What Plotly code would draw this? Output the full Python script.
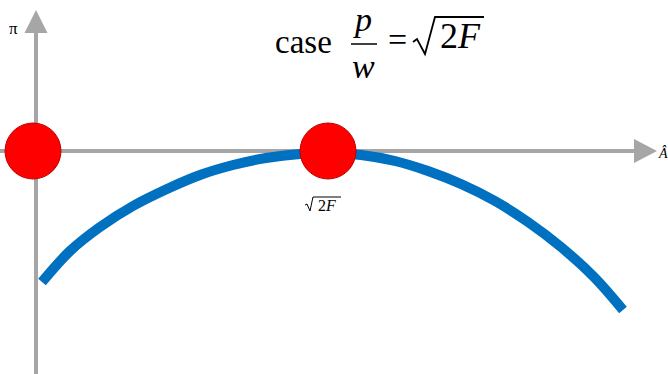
import plotly.graph_objects as go

# profit curve (x along the A axis, y = profit)
curve_x = [0.06, 0.34, 0.64, 0.97, 1.31, 1.64, 1.97, 2.30, 2.64, 2.92,
           3.25, 3.59, 3.92, 4.25, 4.59, 4.92, 5.25, 5.58, 5.87]
curve_y = [-1.31, -1.00, -0.76, -0.55, -0.38, -0.24, -0.14, -0.07, -0.03, -0.02,
           -0.04, -0.10, -0.20, -0.33, -0.50, -0.71, -0.96, -1.26, -1.59]

# red dots: origin and the optimum at sqrt(2F)
dot_x = [-0.03, 2.92]
dot_y = [0.0, 0.0]

W, H = 668, 374
SERIF = "Liberation Serif"


def px(x):
    return x / W


def py(y):
    return 1 - y / H


def poly(points, close=False):
    s = "M " + " L ".join(f"{px(a):.5f} {py(b):.5f}" for a, b in points)
    return s + (" Z" if close else "")


fig = go.Figure()

fig.add_trace(go.Scatter(
    x=curve_x, y=curve_y, mode="lines",
    line=dict(color="#0070C0", width=10, shape="spline", smoothing=1.0),
    hoverinfo="skip",
))
fig.add_trace(go.Scatter(
    x=dot_x, y=dot_y, mode="markers",
    marker=dict(size=56, color="#FF0000", line=dict(color="#C00000", width=1)),
    hoverinfo="skip",
))

shapes = []
grey = "#A6A6A6"
# axes with arrow heads (paper coords, margins are zero)
shapes.append(dict(type="line", xref="paper", yref="paper",
                   x0=px(36), x1=px(36), y0=py(380), y1=py(30),
                   line=dict(color=grey, width=4), layer="below"))
shapes.append(dict(type="path", xref="paper", yref="paper",
                   path=poly([(24.5, 33), (36, 10), (47.5, 33)], close=True),
                   fillcolor=grey, line=dict(width=0), layer="below"))
shapes.append(dict(type="line", xref="paper", yref="paper",
                   x0=px(0), x1=px(637), y0=py(151), y1=py(151),
                   line=dict(color=grey, width=4), layer="below"))
shapes.append(dict(type="path", xref="paper", yref="paper",
                   path=poly([(634, 139), (657, 151), (634, 163)], close=True),
                   fillcolor=grey, line=dict(width=0), layer="below"))
# fraction bar and radicals
shapes.append(dict(type="line", xref="paper", yref="paper",
                   x0=px(351), x1=px(377), y0=py(44), y1=py(44),
                   line=dict(color="black", width=1.5)))
shapes.append(dict(type="path", xref="paper", yref="paper",
                   path=poly([(413, 42), (417, 39), (425, 54), (435, 17), (484, 17)]),
                   line=dict(color="black", width=1.8)))
shapes.append(dict(type="path", xref="paper", yref="paper",
                   path=poly([(305, 205), (307, 204), (310, 211), (313, 197), (341, 197)]),
                   line=dict(color="black", width=1)))


def label(text, x, y, size, italic=False):
    if italic:
        text = f"<i>{text}</i>"
    return dict(text=text, x=px(x), y=py(y), xref="paper", yref="paper",
                xanchor="center", yanchor="middle", showarrow=False,
                font=dict(family=SERIF, size=size, color="black"))


annotations = [
    label("π", 13, 29, 17),
    label("Â", 663, 153, 14, italic=True),
    label("case", 303, 42, 33),
    label("p", 362, 20, 34, italic=True),
    label("w", 363, 66, 34, italic=True),
    label("=", 397, 40, 34),
    label("2<i>F</i>", 460, 36, 36),
    label("2<i>F</i>", 327, 205, 16),
]

fig.update_layout(
    width=W, height=H,
    margin=dict(l=0, r=0, t=0, b=0),
    paper_bgcolor="white", plot_bgcolor="white",
    showlegend=False,
    shapes=shapes, annotations=annotations,
    xaxis=dict(range=[-0.36, 6.32], visible=False, fixedrange=True),
    yaxis=dict(range=[-2.23, 1.51], visible=False, fixedrange=True),
)

fig.write_html("out.html", config={"displayModeBar": False},
               post_script="document.body.style.margin='0';")
